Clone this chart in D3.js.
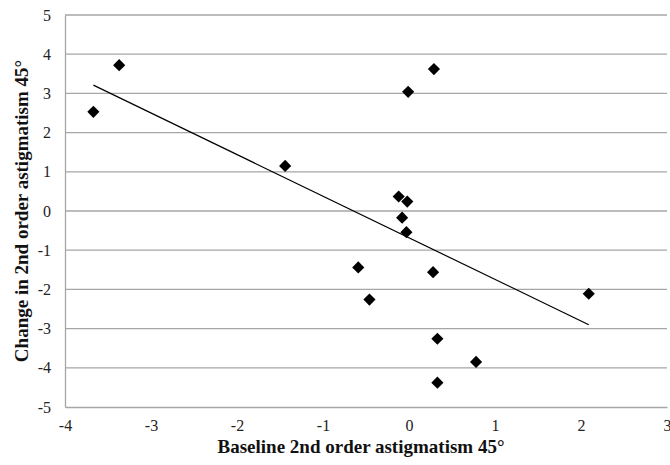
<!DOCTYPE html>
<html lang="en">
<head>
    <style>
        body { margin: 0; background: #fff; }
        .grid line { stroke: #a6a6a6; stroke-width: 1.3; }
        .axis path, .axis line { stroke: #a6a6a6; stroke-width: 1.3; }
        .axis text { font-family: "Liberation Serif", serif; font-size: 16px; fill: #222; }
        .title { font-family: "Liberation Serif", serif; font-size: 19px; font-weight: bold; fill: #111; }
    </style>
    <script src="https://cdn.jsdelivr.net/npm/d3@7"></script>
</head>
<body>
<svg id="chart" width="670" height="465"></svg>
<script>
    // baseline vs change
    var baseline = [-3.67, -3.37, -1.44, 0.29, -0.01, -0.12, -0.02, -0.08, -0.03, -0.59, 0.28, -0.46, 2.09, 0.33, 0.78, 0.33];
    var change   = [2.53, 3.72, 1.15, 3.62, 3.04, 0.37, 0.24, -0.17, -0.54, -1.44, -1.56, -2.26, -2.11, -3.26, -3.85, -4.38];
    var xTicks = [-4, -3, -2, -1, 0, 1, 2, 3];
    var yTicks = [-5, -4, -3, -2, -1, 0, 1, 2, 3, 4, 5];

    var svg = d3.select("svg"),
        plotL = 65, plotR = 667, plotT = 15, plotB = 407;

    var x = d3.scaleLinear().domain([-4, 3]).range([plotL, plotR]),
        y = d3.scaleLinear().domain([-5, 5]).range([plotB, plotT]);

    // horizontal gridlines
    svg.append("g").attr("class", "grid")
       .selectAll("line").data(yTicks.slice(1)).enter().append("line")
       .attr("x1", plotL).attr("x2", plotR)
       .attr("y1", function(d) { return y(d); })
       .attr("y2", function(d) { return y(d); });

    svg.append("g").attr("class", "axis")
       .attr("transform", "translate(0," + plotB + ")")
       .call(d3.axisBottom(x).tickValues(xTicks).tickSize(0).tickPadding(13));

    svg.append("g").attr("class", "axis")
       .attr("transform", "translate(" + plotL + ",0)")
       .call(d3.axisLeft(y).tickValues(yTicks).tickSize(0).tickPadding(14));

    // hyphen minus like the original
    svg.selectAll(".axis text").text(function(d) { return String(d); });

    // least squares trend line
    var mx = d3.mean(baseline), my = d3.mean(change),
        sxy = d3.sum(baseline, function(v, i) { return (v - mx) * (change[i] - my); }),
        sxx = d3.sum(baseline, function(v) { return (v - mx) * (v - mx); }),
        slope = sxy / sxx, icpt = my - slope * mx;
    var ext = d3.extent(baseline);

    svg.append("line")
       .attr("x1", x(ext[0])).attr("y1", y(icpt + slope * ext[0]))
       .attr("x2", x(ext[1])).attr("y2", y(icpt + slope * ext[1]))
       .attr("stroke", "#000").attr("stroke-width", 1.2);

    // diamond markers
    var diamond = d3.symbol().type(d3.symbolSquare).size(74);
    svg.append("g").selectAll("path")
       .data(baseline).enter().append("path")
       .attr("d", diamond)
       .attr("fill", "#000")
       .attr("transform", function(d, i) {
           return "translate(" + x(d) + "," + y(change[i]) + ") rotate(45)";
       });

    svg.append("text").attr("class", "title")
       .attr("x", 361).attr("y", 453).attr("text-anchor", "middle")
       .text("Baseline 2nd order astigmatism 45°");

    svg.append("text").attr("class", "title")
       .attr("transform", "translate(28," + ((plotT + plotB) / 2) + ") rotate(-90)")
       .attr("text-anchor", "middle")
       .text("Change in 2nd order astigmatism 45°");
</script>
</body>
</html>
